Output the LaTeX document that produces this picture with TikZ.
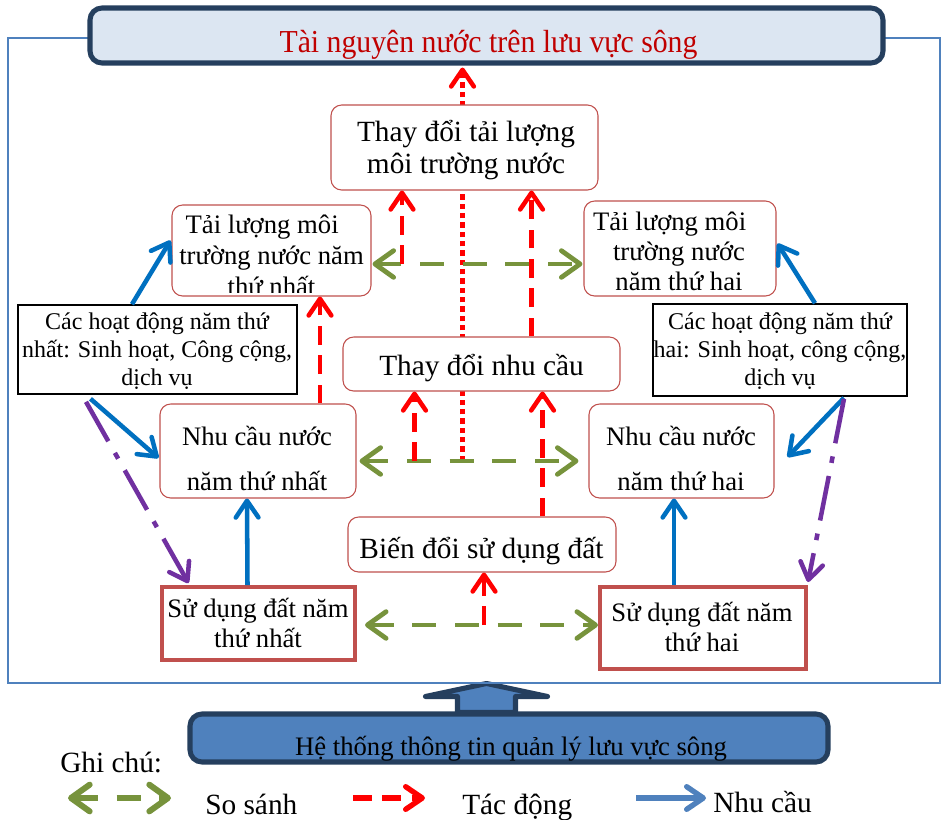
\documentclass[tikz,border=0pt]{standalone}
\usepackage{fontspec}
\usepackage{graphicx}
\setmainfont{Liberation Serif}
\usetikzlibrary{arrows.meta,calc,fit,backgrounds}
\definecolor{cblue}{HTML}{0070C0}
\definecolor{cgreen}{HTML}{77933C}
\definecolor{cred}{HTML}{FF0000}
\definecolor{cpurple}{HTML}{7030A0}
\definecolor{cnavy}{HTML}{253F5E}
\definecolor{csteel}{HTML}{4F81BD}
\definecolor{ctitlefill}{HTML}{DCE6F2}
\definecolor{cboxred}{HTML}{C0504D}
\definecolor{ctitletext}{HTML}{C00000}
\tikzset{
  barbhd/.tip={Straight Barb[length=12.5pt,width=17pt,round]},
  greenhd/.tip={Straight Barb[length=14pt,width=20pt,round]},
  rbox/.style={draw=cboxred, line width=0.8pt, rounded corners=8pt, fill=white, inner sep=0pt},
  abox/.style={draw=black, line width=1.2pt, fill=white, inner sep=0pt},
  sbox/.style={draw=cboxred, line width=3pt, fill=white, inner sep=0pt},
  nbox/.style={draw=cnavy, line width=3.8pt, rounded corners=9pt, inner sep=0pt},
  txt/.style={anchor=base, align=center, inner sep=0pt},
  fbig/.style={font=\fontsize{22pt}{23.6pt}\selectfont},
  fmid/.style={font=\fontsize{20pt}{22.5pt}\selectfont},
  ftl/.style={font=\fontsize{20pt}{23pt}\selectfont},
  fnhu/.style={font=\fontsize{20pt}{33.75pt}\selectfont},
  fsmall/.style={font=\fontsize{18pt}{21pt}\selectfont},
  flegend/.style={font=\fontsize{22pt}{26pt}\selectfont},
  bluearr/.style={draw=cblue, line width=3.4pt, arrows={-barbhd}},
  purplearr/.style={draw=cpurple, line width=3.4pt, dash pattern=on 34pt off 10pt on 5pt off 10pt, arrows={-barbhd}},
  greenarr/.style={draw=cgreen, line width=3.6pt, dash pattern=on 18pt off 14pt, arrows={greenhd-greenhd}},
  redarr/.style={draw=cred, line width=3.4pt, dash pattern=on 14pt off 8pt, arrows={-barbhd}},
  reddot/.style={draw=cred, line width=3.4pt, dash pattern=on 4pt off 3pt, arrows={-barbhd}},
}
\begin{document}
\begin{tikzpicture}[x=0.75pt,y=-0.75pt]
\useasboundingbox (0,0) rectangle (946,819);
\begin{pgfonlayer}{background}
\fill[white] (0,0) rectangle (946,819);
\end{pgfonlayer}
% outer frame
\draw[csteel, line width=1.1pt] (8,38) rectangle (940,683);
% title
\node[nbox, fill=ctitlefill, fit={(90,8) (883,63)}] (tt) {};
\node[txt, font=\fontsize{24pt}{26pt}\selectfont, text=ctitletext] (tt-t) at (488.5,52.5) {\scalebox{0.93}[1]{Tài nguyên nước trên lưu vực sông}};
% boxes
\node[rbox, fit={(331,105) (598,190)}] (ct) {};
\node[rbox, fit={(172,205) (371,296)}] (tl1) {};
\node[rbox, fit={(584,201) (776,296)}] (tl2) {};
\node[rbox, fit={(343,337) (620,391)}] (cn) {};
\node[abox, fit={(18,305) (297,394)}] (a1) {};
\node[abox, fit={(653,304) (907,396)}] (a2) {};
\node[rbox, fit={(160,404) (356,498)}] (n1) {};
\node[rbox, fit={(589,404) (774,498)}] (n2) {};
\node[rbox, fit={(348,517) (616,572)}] (bd) {};
\node[sbox, fit={(162,587) (355,660)}] (s1) {};
\node[sbox, fit={(600,587) (806,669)}] (s2) {};
\node[nbox, fill=csteel, fit={(190,714) (828,762)}] (hb) {};
% texts (anchor base = baseline of the last line)
\node[txt, fbig] (ct-t) at (466,173) {Thay đổi tải lượng\\môi trường nước};
\begin{scope}
\clip ($(tl1.south west)+(2,-4)$) rectangle ($(tl1.north east)+(-2,2)$);
\node[txt, ftl] (tl1-t) at (271.5,295) {Tải lượng môi\hspace*{14pt}\\trường nước năm\\thứ nhất};
\end{scope}
\node[txt, fmid] (tl2-t) at (679,290) {Tải lượng môi\hspace*{14pt}\\trường nước\\năm thứ hai};
\node[txt, fbig] (cn-t) at (481.5,375) {Thay đổi nhu cầu};
\node[txt, fbig] (bd-t) at (481.5,558) {Biến đổi sử dụng đất};
\node[txt, fsmall] (a1-t) at (157,385) {Các hoạt động năm thứ\\nhất: Sinh hoạt, Công cộng,\\dịch vụ};
\node[txt, fsmall] (a2-t) at (780,385) {Các hoạt động năm thứ\\hai: Sinh hoạt, công cộng,\\dịch vụ};
\node[txt, fnhu] (n1-t) at (257,490) {Nhu cầu nước\\năm thứ nhất};
\node[txt, fnhu] (n2-t) at (681,490) {Nhu cầu nước\\năm thứ hai};
\node[txt, fmid] (s1-t) at (258,647) {Sử dụng đất năm\\thứ nhất};
\node[txt, fmid] (s2-t) at (702,651) {Sử dụng đất năm\\thứ hai};
\node[txt, fmid] (hb-t) at (511,755) {Hệ thống thông tin quản lý lưu vực sông};
% green comparisons
\coordinate (g1a) at ($(tl1.east)+(1,13.5)$);
\coordinate (g1b) at ($(tl2.west)+(-1,15.5)$);
\coordinate (g2a) at ($(n1.east)+(3,10)$);
\coordinate (g2b) at ($(n2.west)+(-10,10)$);
\coordinate (g3a) at ($(s1.east)+(8,1.5)$);
\coordinate (g3b) at ($(s2.west)+(0,-3)$);
\draw[greenarr] (g1a) -- (g1b);
\draw[greenarr] (g2a) -- (g2b);
\draw[greenarr] (g3a) -- (g3b);
% red impacts
\coordinate (r1x) at ($(ct.south)+(-62.5,0)$);
\draw[redarr] (r1x |- g1a) -- (r1x);
\draw[redarr] ($(cn.north)+(50,0)$) -- ($(ct.south)+(67,0)$);
\draw[redarr] ($(n1.north)+(62,0)$) -- ($(tl1.south)+(48.5,0)$);
\coordinate (r4x) at ($(cn.south)+(-67,0)$);
\draw[redarr] (r4x |- g2a) -- (r4x);
\draw[redarr] ($(bd.north)+(60.5,0)$) -- ($(cn.south)+(61,0)$);
\coordinate (r6x) at ($(bd.south)+(2,0)$);
\draw[redarr] (r6x |- g3a) -- (r6x);
% dotted red line behind boxes
\coordinate (dotx) at ($(tt.south)+(-24,2)$);
\begin{pgfonlayer}{background}
\draw[reddot] (dotx |- g2a) -- (dotx);
\draw[cnavy, fill=csteel, line width=3.8pt, line join=round] ($(hb.north)+(-22.5,-28)$) -- ++(-61,13) -- ++(32,0) -- ++(0,16) -- ++(58,0) -- ++(0,-16) -- ++(32,0) -- cycle;
\end{pgfonlayer}
% blue demands
\draw[bluearr] ($(a1.north)+(-25.5,0)$) -- ($(tl1.west)+(-1,-10)$);
\draw[bluearr] ($(a1.south)+(-67,4)$) -- ($(n1.west)+(-1,7)$);
\draw[bluearr] ($(s1.north)+(-11,0)$) -- ($(n1.south)+(-11,0)$);
\draw[bluearr] ($(a2.north)+(35,0)$) -- ($(tl2.east)+(1,-5)$);
\draw[bluearr] ($(a2.south)+(64,1)$) -- ($(n2.east)+(13,6)$);
\draw[bluearr] ($(s2.north)+(-29,0)$) -- ($(n2.south)+(-7.5,0)$);
% purple dash-dot
\draw[purplearr] ($(a1.south)+(-71.5,7)$) -- ($(s1.north)+(-70,-2)$);
\draw[purplearr] ($(a2.south)+(64,2)$) -- ($(s2.north east)+(0,-3)$);
% legend
\node[txt, flegend, anchor=base west] (gc) at (60,772) {Ghi chú:};
\coordinate (lg1) at (68,798);
\coordinate (lg2) at (171,798);
\draw[greenarr, line width=4.5pt] (lg1) -- (lg2);
\node[txt, flegend, anchor=base west] (l1) at (205,814) {So sánh};
\coordinate (lr1) at (353,798);
\coordinate (lr2) at (425,798);
\draw[redarr, line width=4pt] (lr1) -- (lr2);
\node[txt, flegend, anchor=base west] (l2) at (462,814) {Tác động};
\coordinate (lb1) at (636,798);
\coordinate (lb2) at (706,798);
\draw[bluearr, draw=csteel, line width=4pt] (lb1) -- (lb2);
\node[txt, flegend, anchor=base west] (l3) at (713,812) {Nhu cầu};
\end{tikzpicture}
\end{document}
